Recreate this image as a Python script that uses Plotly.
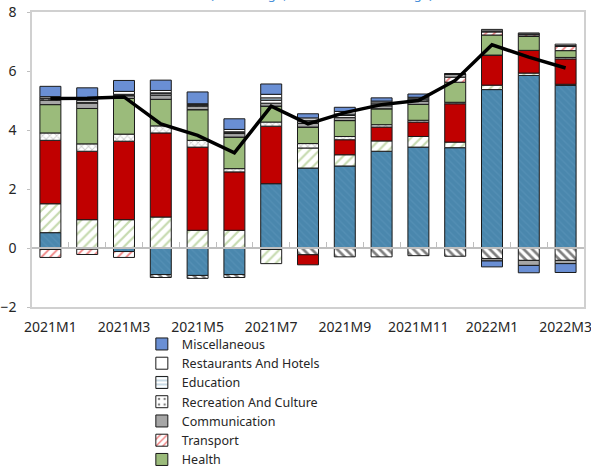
import plotly.graph_objects as go

months = ["2021M1", "2021M2", "2021M3", "2021M4", "2021M5", "2021M6", "2021M7", "2021M8",
          "2021M9", "2021M10", "2021M11", "2021M12", "2022M1", "2022M2", "2022M3"]
tick_labels = months[::2]

food = [0.52, -0.04, -0.12, -0.90, -0.93, -0.90, 2.18, 2.71, 2.78, 3.28, 3.42, 3.40, 5.37, 5.85, 5.51]
alcohol = [-0.05, 0.0, 0.0, -0.10, -0.10, -0.10, -0.05, -0.23, -0.30, -0.30, -0.26, -0.28, -0.36, -0.42, -0.42]
clothing = [0.98, 0.96, 0.96, 1.05, 0.60, 0.60, -0.48, 0.68, 0.38, 0.35, 0.36, 0.19, 0.15, 0.08, 0.04]
housing = [2.15, 2.32, 2.66, 2.85, 2.82, 1.98, 1.95, -0.34, 0.51, 0.47, 0.49, 1.30, 1.02, 0.77, 0.86]
furnishings = [0.25, 0.25, 0.24, 0.24, 0.23, 0.11, 0.14, 0.15, 0.11, 0.08, 0.06, 0.05, 0.0, 0.0, 0.05]
health = [0.96, 1.20, 1.21, 0.90, 1.04, 1.07, 0.54, 0.56, 0.54, 0.54, 0.54, 0.68, 0.68, 0.47, 0.23]
transport = [-0.27, -0.18, -0.20, 0.0, 0.0, 0.0, 0.0, 0.0, 0.0, 0.0, 0.0, 0.17, 0.11, 0.06, 0.14]
communication = [0.15, 0.19, 0.09, 0.14, 0.12, 0.12, 0.10, 0.12, 0.10, 0.10, 0.10, 0.11, -0.08, -0.17, -0.11]
recreation = [0.05, 0.0, 0.02, 0.05, 0.03, 0.03, 0.10, 0.06, 0.07, 0.06, 0.05, 0.0, 0.0, 0.0, 0.0]
education = [0.02, 0.02, 0.03, 0.03, 0.02, 0.03, 0.08, 0.05, 0.05, 0.04, 0.04, 0.0, 0.03, 0.03, 0.03]
restaurants = [0.05, 0.07, 0.10, 0.08, 0.03, 0.08, 0.12, 0.08, 0.09, 0.06, 0.05, 0.0, 0.05, 0.03, 0.05]
misc = [0.35, 0.42, 0.37, 0.35, 0.40, 0.36, 0.35, 0.14, 0.14, 0.11, 0.11, 0.0, -0.20, -0.25, -0.30]
headline = [5.07, 5.08, 5.12, 4.21, 3.82, 3.23, 4.81, 4.21, 4.59, 4.86, 5.00, 5.68, 6.89, 6.47, 6.10]

series = [
    ("Food And Non-Alcoholic Beverages", food, dict(color="#4A87AD", pattern=dict(shape="\\", fgcolor="#5E97BC", bgcolor="#4A87AD", size=5, solidity=0.25)), False),
    ("Alcoholic Beverages And Tobacco", alcohol, dict(color="white", pattern=dict(shape="\\", fgcolor="black", bgcolor="white", size=6, solidity=0.45)), False),
    ("Clothing And Footwear", clothing, dict(color="white", pattern=dict(shape="/", fgcolor="#8DB560", bgcolor="white", size=7, solidity=0.32)), False),
    ("Housing, Water, Electricity, Gas", housing, dict(color="#C00000"), False),
    ("Furnishings And Household Equipment", furnishings, dict(color="white", pattern=dict(shape="x", fgcolor="#A0A0A0", bgcolor="white", size=5, solidity=0.35)), False),
    ("Health", health, dict(color="#9BBB7B"), True),
    ("Transport", transport, dict(color="white", pattern=dict(shape="/", fgcolor="#E00000", bgcolor="white", size=6, solidity=0.3)), True),
    ("Communication", communication, dict(color="#A6A6A6"), True),
    ("Recreation And Culture", recreation, dict(color="white", pattern=dict(shape=".", fgcolor="black", bgcolor="white", size=7, solidity=0.15)), True),
    ("Education", education, dict(color="white", pattern=dict(shape="-", fgcolor="#4A87AD", bgcolor="white", size=5, solidity=0.3)), True),
    ("Restaurants And Hotels", restaurants, dict(color="white"), True),
    ("Miscellaneous", misc, dict(color="#6A8FD4"), True),
]

fig = go.Figure()
for name, vals, mk, show in series:
    marker = dict(mk)
    marker["line"] = dict(color="#1A1A1A", width=1)
    fig.add_trace(go.Bar(x=months, y=vals, name=name, marker=marker, showlegend=show,
                         xaxis="x", yaxis="y"))

fig.add_trace(go.Scatter(x=months, y=headline, mode="lines", name="Headline Inflation",
                         line=dict(color="black", width=3.5), showlegend=False,
                         xaxis="x2", yaxis="y"))

fig.add_annotation(text="Contribution to Inflation<br>(Percentage, Year-over-Year Change)",
                   xref="paper", yref="paper", x=0.524, y=1.024, xanchor="center", yanchor="bottom",
                   showarrow=False, font=dict(family="Noto Sans", size=13, color="#4A90D9"))

fig.update_layout(
    width=591, height=469,
    margin=dict(l=32, r=7, t=12, b=162, autoexpand=False),
    barmode="relative",
    bargap=0.43,
    plot_bgcolor="white",
    paper_bgcolor="white",
    font=dict(family="Noto Sans", size=14, color="#262626"),
    showlegend=True,
    legend=dict(xref="container", yref="container", x=0.240, y=0.2978, xanchor="left", yanchor="top",
                traceorder="reversed", font=dict(size=12.5, color="#262626"),
                tracegroupgap=0, itemwidth=30, bgcolor="rgba(0,0,0,0)"),
    xaxis=dict(type="category", anchor="free", position=0.2, showline=True, linecolor="#BFBFBF",
               linewidth=1.5, ticks="inside", tickson="boundaries", ticklen=5, tickcolor="#BFBFBF",
               showticklabels=False, showgrid=False, zeroline=False),
    xaxis2=dict(type="category", overlaying="x", matches="x", anchor="y", side="bottom",
                showline=True, mirror=True, linecolor="#D0D0D0", linewidth=1.5,
                ticks="", tickmode="array", tickvals=tick_labels, ticktext=tick_labels,
                ticklabelstandoff=6, ticklabeloverflow="allow", showgrid=False, zeroline=False),
    yaxis=dict(range=[-2, 8], dtick=2, showline=True, mirror=True, linecolor="#D0D0D0", linewidth=1.5,
               ticks="outside", ticklen=3, tickcolor="#BFBFBF", showgrid=False, zeroline=False,
               ticklabelstandoff=8, ticklabeloverflow="allow"),
)

fig.write_html("out.html", config={"displayModeBar": False},
               post_script="document.body.style.margin='0px';")
